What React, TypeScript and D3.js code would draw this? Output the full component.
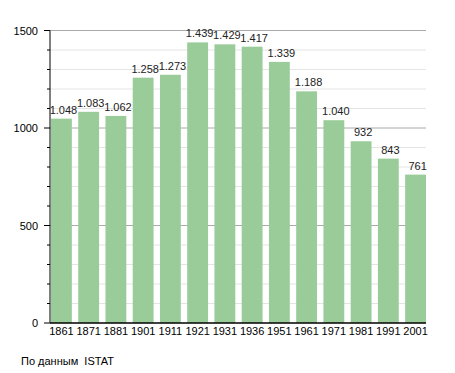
import React from 'react'
import * as d3 from 'd3'

const years = ['1861', '1871', '1881', '1901', '1911', '1921', '1931', '1936', '1951', '1961', '1971', '1981', '1991', '2001']
const population = [1048, 1083, 1062, 1258, 1273, 1439, 1429, 1417, 1339, 1188, 1040, 932, 843, 761]
const majorTicks = [0, 500, 1000, 1500]
const minorTicks = d3.range(0, 1501, 100)
const source = 'По данным  ISTAT'

const W = 455, H = 373
const left = 50, right = 426, top = 30.5, bottom = 323
const font = '"Liberation Sans", Arial, sans-serif'

const fmt = (v: number) => {
  const s = String(v)
  return s.length > 3 ? s.slice(0, s.length - 3) + '.' + s.slice(-3) : s
}

export default function App() {
  const x = d3.scaleBand<string>().domain(years).range([51, right]).paddingInner(0.235).paddingOuter(0)
  const y = d3.scaleLinear().domain([0, 1500]).range([bottom, top])

  return (
    <svg width={W} height={H} style={{ position: 'absolute', left: 0, top: 0 }} fontFamily={font}>
      <rect width={W} height={H} fill="#fff" />
      {minorTicks.filter(t => t % 500 !== 0).map(t => (
        <g key={'m' + t}>
          <line x1={left} x2={right} y1={y(t)} y2={y(t)} stroke="#e4e4e4" strokeWidth={1} />
          <line x1={left - 3} x2={left} y1={y(t)} y2={y(t)} stroke="#000" strokeWidth={1} />
        </g>
      ))}
      {majorTicks.map(t => (
        <g key={'M' + t}>
          {t > 0 && <line x1={left} x2={right} y1={y(t)} y2={y(t)} stroke="#aaa" strokeWidth={1} />}
          <line x1={left - 6} x2={left} y1={y(t)} y2={y(t)} stroke="#000" strokeWidth={1} />
          <text x={38} y={y(t) + 4} textAnchor="end" fontSize={11} fill="#000">{t}</text>
        </g>
      ))}
      {years.map((yr, i) => (
        <g key={yr}>
          <rect x={x(yr)} y={y(population[i])} width={x.bandwidth()} height={bottom - y(population[i])} fill="#99cc99" />
          <text x={(x(yr) as number) + x.bandwidth() / 2 + 2} y={y(population[i]) - 5} textAnchor="middle" fontSize={11} fill="#222">{fmt(population[i])}</text>
          <text x={(x(yr) as number) + x.bandwidth() / 2} y={335} textAnchor="middle" fontSize={11} fill="#000">{yr}</text>
        </g>
      ))}
      <line x1={left} x2={left} y1={top} y2={bottom} stroke="#000" strokeWidth={1} />
      <line x1={left} x2={right} y1={bottom} y2={bottom} stroke="#000" strokeWidth={1.5} />
      <text x={21} y={365} fontSize={11} fill="#000" style={{ whiteSpace: 'pre' }}>{source}</text>
    </svg>
  )
}
